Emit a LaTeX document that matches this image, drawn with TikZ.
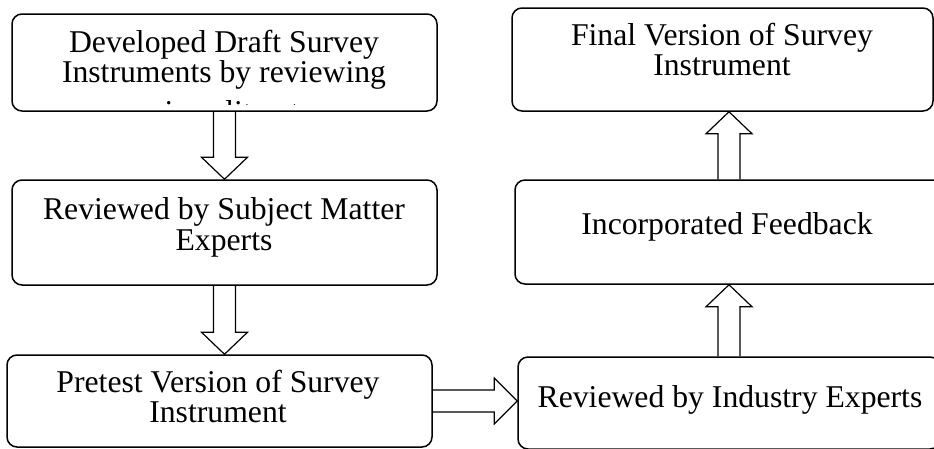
\documentclass[tikz,border=0pt]{standalone}
\usepackage{fontspec}
\setmainfont{Liberation Serif}
\usetikzlibrary{calc}
\tikzset{
  box/.style={draw=black, line width=1.5pt, rounded corners=10pt, inner sep=0pt},
  txt/.style={anchor=base, inner sep=0pt, font=\fontsize{31.7pt}{30pt}\selectfont},
  blk/.style={draw=black, line width=1.2pt, line join=miter}
}
\begin{document}
\begin{tikzpicture}[x=1pt, y=-1pt]
\useasboundingbox (0,0) rectangle (934,448);
\clip (0,0) rectangle (934,448);
% boxes
\node[box, minimum width=425pt, minimum height=97pt]  (b1) at (224.5,62.5) {};
\node[box, minimum width=425pt, minimum height=105pt] (b2) at (224.5,232.5) {};
\node[box, minimum width=425pt, minimum height=92pt]  (b3) at (219.5,401) {};
\node[box, minimum width=421pt, minimum height=103pt] (b4) at (722.5,59.5) {};
\node[box, minimum width=428pt, minimum height=104pt] (b5) at (729,232) {};
\node[box, minimum width=422pt, minimum height=92pt]  (b6) at (729,403) {};
% texts
\node[txt] (t1a) at (224,52) {Developed Draft Survey};
\node[txt] (t1b) at (224,82) {Instruments by reviewing};
\begin{scope}
\clip (14,91) rectangle (435,104);
\node[txt] (t1c) at (224,122) {previous literature};
\end{scope}
\node[txt] (t2a) at (224,219) {Reviewed by Subject Matter};
\node[txt] (t2b) at (224,250) {Experts};
\node[txt] (t3a) at (218,392) {Pretest Version of Survey};
\node[txt] (t3b) at (218,422) {Instrument};
\node[txt] (t4a) at (722,45) {Final Version of Survey};
\node[txt] (t4b) at (722,75) {Instrument};
\node[txt] (t5) at (727,234) {Incorporated Feedback};
\node[txt] (t6) at (730,407) {Reviewed by Industry Experts};
% block arrows (down)
\draw[blk] let \p1=(b1.south), \p2=(b2.north) in
  (\x1-11pt,\y1) -- (\x1-11pt,\y2+22pt) -- (\x1-23pt,\y2+22pt) -- (\x1,\y2)
  -- (\x1+23pt,\y2+22pt) -- (\x1+11pt,\y2+22pt) -- (\x1+11pt,\y1);
\draw[blk] let \p1=(b2.south), \p2=(b3.north) in
  (\x1-11pt,\y1) -- (\x1-11pt,\y2+22pt) -- (\x1-23pt,\y2+22pt) -- (\x1,\y2)
  -- (\x1+23pt,\y2+22pt) -- (\x1+11pt,\y2+22pt) -- (\x1+11pt,\y1);
% horizontal
\draw[blk] let \p1=(b3.east), \p2=(b6.west) in
  (\x1,\y1+11pt) -- (\x2-23pt,\y1+11pt) -- (\x2-23pt,\y1+23pt) -- (\x2,\y1)
  -- (\x2-23pt,\y1-23pt) -- (\x2-23pt,\y1-11pt) -- (\x1,\y1-11pt);
% up arrows
\draw[blk] let \p1=(b6.north), \p2=(b5.south) in
  (\x1-11pt,\y1) -- (\x1-11pt,\y2-22pt) -- (\x1-23pt,\y2-22pt) -- (\x1,\y2)
  -- (\x1+23pt,\y2-22pt) -- (\x1+11pt,\y2-22pt) -- (\x1+11pt,\y1);
\draw[blk] let \p1=(b5.north), \p2=(b4.south) in
  (\x1-11pt,\y1) -- (\x1-11pt,\y2-22pt) -- (\x1-23pt,\y2-22pt) -- (\x1,\y2)
  -- (\x1+23pt,\y2-22pt) -- (\x1+11pt,\y2-22pt) -- (\x1+11pt,\y1);
\end{tikzpicture}
\end{document}
